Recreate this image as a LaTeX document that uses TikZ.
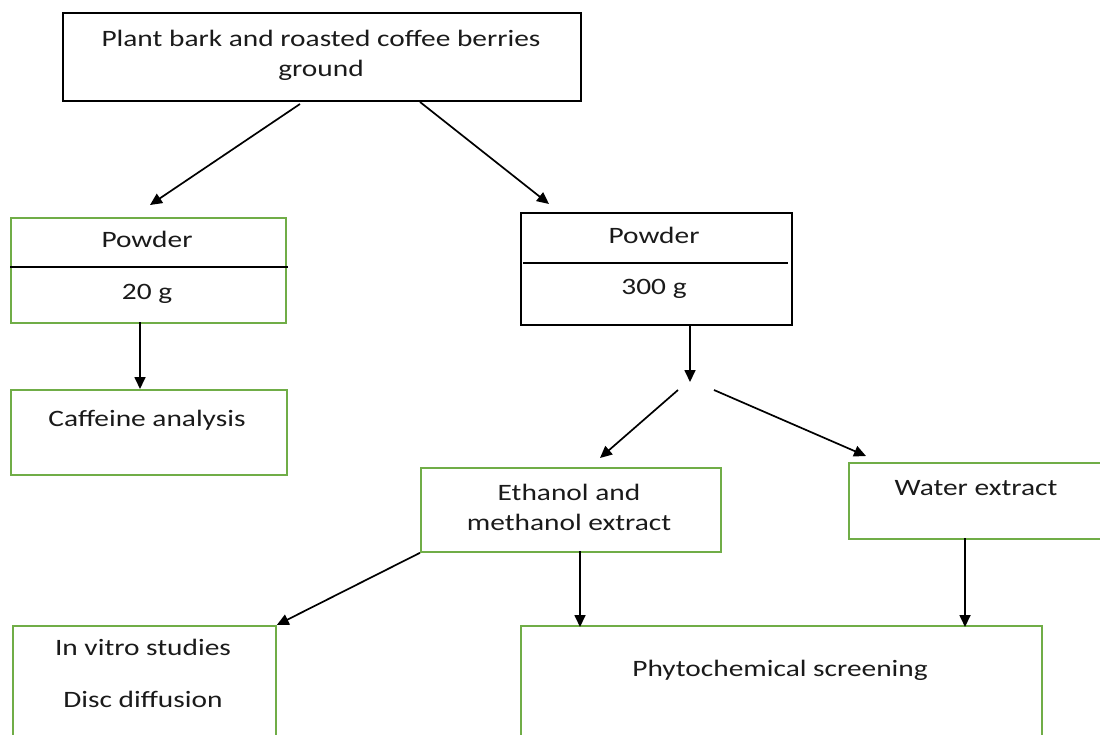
\documentclass[tikz,border=0pt]{standalone}
\usepackage{fontspec}
\setmainfont{Carlito}[FakeStretch=1.25]
\usetikzlibrary{arrows.meta}
\definecolor{boxgreen}{HTML}{70AD47}
\definecolor{txt}{HTML}{1A1A1A}
\begin{document}
\begin{tikzpicture}[x=1pt,y=-1pt,
  gbox/.style={draw=boxgreen,line width=1.8pt,anchor=north west,inner sep=0pt},
  kbox/.style={draw=black,line width=1.8pt,anchor=north west,inner sep=0pt},
  lbl/.style={font=\fontsize{23.5}{30}\selectfont,text=txt,anchor=base,inner sep=0pt,align=center},
  arr/.style={-{Triangle[length=12pt,width=11pt]},line width=1.7pt},
  divider/.style={line width=1.7pt}]
\useasboundingbox (0,0) rectangle (1100,734);
\clip (0,0) rectangle (1100,734);
% boxes
\node[kbox,minimum width=518pt,minimum height=88pt] (top) at (62,12) {};
\node[gbox,minimum width=275pt,minimum height=105pt] (p20) at (10,217) {};
\node[kbox,minimum width=271pt,minimum height=112pt] (p300) at (520,212) {};
\node[gbox,minimum width=276pt,minimum height=85pt] (caf) at (10,389) {};
\node[gbox,minimum width=300pt,minimum height=84pt] (eth) at (420,467) {};
\node[gbox,minimum width=262pt,minimum height=76pt] (wat) at (848,462) {};
\node[gbox,minimum width=263pt,minimum height=130pt] (vit) at (12,625) {};
\node[gbox,minimum width=521pt,minimum height=130pt] (phy) at (520,625) {};
% dividers
\draw[divider] (10,267) -- (288,267);
\draw[divider] (523,263) -- (788,263);
% texts (base anchor = baseline of last line)
\node[lbl] (ttop) at (321,76) {Plant bark and roasted coffee berries\\ground};
\node[lbl] (tp20a) at (147,247) {Powder};
\node[lbl] (tp20b) at (147,299) {20 g};
\node[lbl] (tp300a) at (654,243) {Powder};
\node[lbl] (tp300b) at (654,294) {300 g};
\node[lbl] (tcaf) at (147,426) {Caffeine analysis};
\node[lbl] (teth) at (569,530) {Ethanol and\\methanol extract};
\node[lbl] (twat) at (976,495) {Water extract};
\node[lbl] (tvita) at (143,655) {In vitro studies};
\node[lbl] (tvitb) at (143,707) {Disc diffusion};
\node[lbl] (tphy) at (780,676) {Phytochemical screening};
% connector ends
\coordinate (a1s) at (300,104); \coordinate (a1e) at (150,205);
\coordinate (a2s) at (420,102); \coordinate (a2e) at (549,204);
\coordinate (a3s) at (140,322); \coordinate (a3e) at (140,389);
\coordinate (a4s) at (690,324); \coordinate (a4e) at (690,382);
\coordinate (a5s) at (678,390); \coordinate (a5e) at (600,458);
\coordinate (a6s) at (714,390); \coordinate (a6e) at (866,456);
\coordinate (a8s) at (580,551); \coordinate (a8e) at (580,627);
\coordinate (a9s) at (965,538); \coordinate (a9e) at (965,627);
% connectors
\draw[arr] (a1s) -- (a1e);
\draw[arr] (a2s) -- (a2e);
\draw[arr] (a3s) -- (a3e);
\draw[arr] (a4s) -- (a4e);
\draw[arr] (a5s) -- (a5e);
\draw[arr] (a6s) -- (a6e);
\draw[arr] (eth.south west) -- (vit.north east);
\draw[arr] (a8s) -- (a8e);
\draw[arr] (a9s) -- (a9e);
\end{tikzpicture}
\end{document}
